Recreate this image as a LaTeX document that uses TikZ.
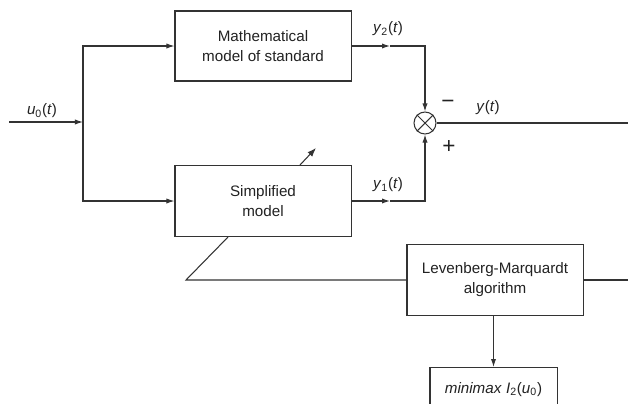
\documentclass[tikz,border=0pt]{standalone}
\usepackage{fontspec}
\setmainfont{Liberation Sans}
\usetikzlibrary{arrows.meta, positioning}
\definecolor{bdline}{HTML}{333333}
\definecolor{bdtext}{HTML}{222222}
\tikzset{
  every picture/.style={line join=miter},
  txt/.style={font=\fontsize{10.8}{14.2}\selectfont},
  blk/.style={rectangle, draw=bdline, line width=0.75pt, fill=white, txt,
    text=bdtext, align=center, inner sep=0pt},
  wire/.style={draw=bdline, line width=0.75pt},
  sig/.style={wire, -{Latex[length=2mm, width=1.3mm]}},
  tune/.style={wire, -{Latex[length=2.2mm, width=1.6mm]}},
  mixer/.style={circle, draw=bdline, line width=0.75pt, minimum size=0.55cm,
    inner sep=0pt},
  lbl/.style={txt, text=bdtext, inner sep=0pt},
  sgn/.style={lbl, font=\fontsize{16}{16}\selectfont},
}
\newcommand{\sgl}[2]{\textit{#1}\textsubscript{#2}}

\begin{document}
\begin{tikzpicture}[x=0.025cm, y=-0.025cm]
\path[use as bounding box, clip] (0,0) rectangle (628,403);

% ---- Blocks
\node[blk, minimum width=4.4cm, minimum height=1.75cm] (stdmodel) at (263,46)
  {Mathematical\\model of standard};
\node[blk, minimum width=4.4cm, minimum height=1.775cm] (simpmodel) at (263,201)
  {Simplified\\model};
\node[blk, minimum width=4.4cm, minimum height=1.775cm] (lmalg) at (495,280)
  {Levenberg-Marquardt\\algorithm};
\node[blk, minimum width=3.175cm, minimum height=1.1cm, anchor=north] (minimax) at (493.5,367)
  {\textit{minimax} \sgl{I}{2}(\sgl{u}{0})};
\node[mixer] (mult) at (425,123) {};
\draw[wire] (mult.north west) -- (mult.south east);
\draw[wire] (mult.north east) -- (mult.south west);

% ---- Free ends and turning points
\coordinate (uin)    at (9,122);
\coordinate (branch) at (83,122);
\coordinate (y2mid)  at (390,46);
\coordinate (y1mid)  at (390,201);
\coordinate (yout)   at (628,123);
\coordinate (fbturn) at (186,280);
\coordinate (lmout)  at (628,280);

% ---- Input, split to both models
\draw[sig] (uin) -- (branch);
\node[lbl] (u0lbl) at (42,111) {\sgl{u}{0}(\textit{t})};
\draw[sig] (branch) |- (stdmodel.west);
\draw[sig] (branch) |- (simpmodel.west);

% ---- Model outputs into the comparator
\draw[sig] (stdmodel.east) -- (y2mid);
\draw[sig] (y2mid) -| (mult.north);
\draw[sig] (simpmodel.east) -- (y1mid);
\draw[sig] (y1mid) -| (mult.south);
\node[lbl] (y2lbl) at (388,29) {\sgl{y}{2}(\textit{t})};
\node[lbl] (y1lbl) at (388,185) {\sgl{y}{1}(\textit{t})};
\node[sgn] (minus) at (448,104) {−};
\node[sgn] (plus)  at (449,147) {+};
\draw[wire] (mult.east) -- (yout);
\node[lbl] (ylbl) at (488,108) {\textit{y}(\textit{t})};

% ---- Parameter tuning by the optimiser
\draw[tune] ([xshift=0.925cm]simpmodel.north) -- ++(16,-17);
\draw[wire] ([xshift=-0.875cm]simpmodel.south) -- (fbturn) -- (lmalg.west);
\draw[wire] (lmalg.east) -- (lmout);
\draw[sig] (lmalg.south -| minimax.north) -- (minimax.north);

\end{tikzpicture}
\end{document}
